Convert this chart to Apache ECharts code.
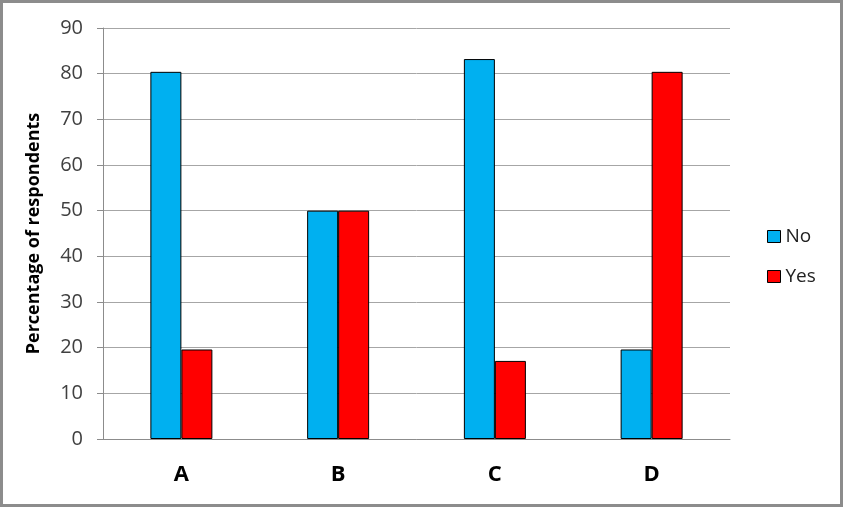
<!DOCTYPE html>
<html>
<head>
<meta charset="utf-8">
<script src="https://cdn.jsdelivr.net/npm/echarts@6/dist/echarts.min.js"></script>
<style>
  html, body { margin: 0; padding: 0; background: #fff; }
  #chart { width: 843px; height: 507px; }
</style>
</head>
<body>
<div id="chart"></div>
<script>
const categories = ['A', 'B', 'C', 'D']
const noValues = [80.4, 50, 83.2, 19.6]
const yesValues = [19.6, 50, 17.1, 80.4]

const fontFamily = '"Open Sans", "Liberation Sans", sans-serif'
const textColor = '#404040'
const lineColor = '#8c8c8c'

const chart = echarts.init(document.getElementById('chart'))

chart.setOption({
  backgroundColor: '#fff',
  animation: false,
  graphic: [{
    type: 'rect',
    shape: {x: 1.5, y: 1.5, width: 840, height: 504},
    style: {fill: 'none', stroke: '#8c8c8c', lineWidth: 3},
  }],
  legend: {
    orient: 'vertical',
    left: 762,
    top: 222,
    icon: 'rect',
    itemWidth: 13,
    itemHeight: 12,
    itemGap: 21,
    textStyle: {fontFamily, fontSize: 19, color: '#222'},
    itemStyle: {borderColor: '#000', borderWidth: 1},
    data: ['No', 'Yes'],
  },
  grid: {
    left: 103,
    right: 113,
    top: 28,
    bottom: 68,
  },
  xAxis: {
    type: 'category',
    data: categories,
    axisLine: {lineStyle: {color: lineColor, width: 1}},
    axisTick: {show: false},
    axisLabel: {
      margin: 25,
      fontFamily,
      fontSize: 22,
      fontWeight: 'bold',
      color: '#000',
    },
  },
  yAxis: {
    type: 'value',
    min: 0,
    max: 90,
    interval: 10,
    name: 'Percentage of respondents',
    nameLocation: 'middle',
    nameGap: 60,
    nameTextStyle: {fontFamily, fontSize: 18, fontWeight: 'bold', color: '#000'},
    axisLine: {show: true, lineStyle: {color: lineColor, width: 1}},
    axisTick: {show: true, length: 6, lineStyle: {color: lineColor}},
    axisLabel: {margin: 20, fontFamily, fontSize: 20, color: textColor},
    splitLine: {lineStyle: {color: '#a6a6a6', width: 1}},
  },
  series: [{
    name: 'No',
    type: 'bar',
    data: noValues,
    barWidth: 31,
    barGap: '0%',
    itemStyle: {color: '#00b0f0', borderColor: '#000', borderWidth: 1},
  }, {
    name: 'Yes',
    type: 'bar',
    data: yesValues,
    barWidth: 31,
    barGap: '0%',
    itemStyle: {color: '#ff0000', borderColor: '#000', borderWidth: 1},
  }],
})
</script>
</body>
</html>
